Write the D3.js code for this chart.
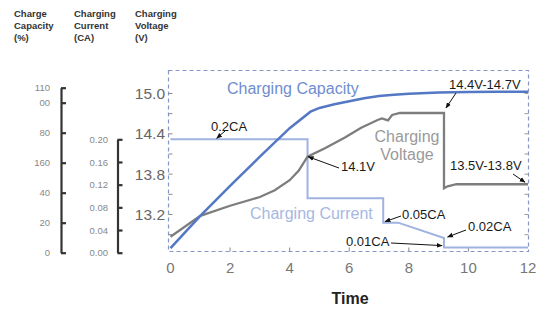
<!DOCTYPE html>
<html lang="en">
<head>
<meta charset="utf-8">
<title>Charging curve</title>
<script src="https://d3js.org/d3.v7.min.js"></script>
<style>
  body { margin: 0; background: #fff; font-family: "Liberation Sans", Arial, sans-serif; }
</style>
</head>
<body>
<div class="chart"></div>
<script>
// axis ticks
const timeTicks = [0, 2, 4, 6, 8, 10, 12];
const voltTicks = [12.9, 13.2, 13.5, 13.8, 14.1, 14.4, 14.7, 15.0];
const voltLabelTicks = [13.2, 13.8, 14.4, 15.0];
const capTicks = [0, 20, 40, 60, 80, 100, 110];
const capTickLabels = ["0", "20", "40", "160", "80", "00", "110"];
const curTicks = [0, 0.04, 0.08, 0.12, 0.16, 0.20];

// charging capacity (%)
const capTime  = [0, 1, 2, 3, 4, 4.7, 5, 5.5, 6, 6.5, 7, 7.5, 8, 9, 10, 11, 12];
const capValue = [3, 24.5, 44.5, 64, 83, 94, 96.5, 99, 101, 103, 104.5, 105.3, 106, 106.8, 107.2, 107.3, 107.3];

// charging current (CA)
const curTime  = [0, 4.6, 4.6, 7.14, 7.14, 7.64, 9.18, 9.18, 12];
const curValue = [0.2, 0.2, 0.096, 0.096, 0.053, 0.053, 0.026, 0.009, 0.009];

// charging voltage (V)
const voltTime  = [0, 1, 2, 3, 3.5, 4, 4.3, 4.6, 5.2, 5.87, 6.4, 6.97, 7.1, 7.3, 7.44, 7.7, 9.18, 9.18, 9.3, 9.6, 12];
const voltValue = [12.87, 13.18, 13.33, 13.46, 13.56, 13.71, 13.85, 14.06, 14.19, 14.35, 14.49, 14.61, 14.63, 14.60, 14.68, 14.71, 14.71, 13.59, 13.62, 13.65, 13.65];

const width = 540, height = 311;
const boxL = 168.5, boxR = 528.5, boxT = 70.5, boxB = 251.5;

const svg = d3.select('.chart')
    .append('svg')
    .attr('width', width)
    .attr('height', height);

const x = d3.scaleLinear().domain([0, 12]).range([170.5, 528]);
const yV = d3.scaleLinear().domain([13.2, 15.0]).range([214.5, 93.5]);
const yC = d3.scaleLinear().domain([0, 0.2]).range([252.7, 139.3]);
const yP = d3.scaleLinear().domain([0, 110]).range([252.7, 87.7]);

// header titles
const heads = [
    {x: 14, lines: ["Charge", "Capacity", "(%)"]},
    {x: 74, lines: ["Charging", "Current", "(CA)"]},
    {x: 135, lines: ["Charging", "Voltage", "(V)"]}
];
heads.forEach(h => {
    h.lines.forEach((l, i) => {
        svg.append('text')
            .attr('x', h.x)
            .attr('y', 16.5 + i * 12)
            .attr('font-size', 9.5)
            .attr('font-weight', 'bold')
            .attr('fill', '#333')
            .text(l);
    });
});

// capacity axis
const capAxis = svg.append('g')
    .attr('transform', 'translate(61,0)')
    .call(d3.axisLeft(yP).tickValues(capTicks)
        .tickFormat((d, i) => capTickLabels[i])
        .tickSizeInner(-5).tickSizeOuter(0).tickPadding(11));

// current axis
const curAxis = svg.append('g')
    .attr('transform', 'translate(117.5,0)')
    .call(d3.axisLeft(yC).tickValues(curTicks)
        .tickFormat(d3.format('.2f'))
        .tickSizeInner(-5).tickSizeOuter(0).tickPadding(9.5));

[capAxis, curAxis].forEach(g => {
    g.select('.domain').attr('stroke', '#333').attr('stroke-width', 2.2);
    g.selectAll('.tick line').attr('stroke', '#333').attr('stroke-width', 2.2);
    g.selectAll('.tick text')
        .attr('fill', '#888')
        .attr('font-size', 9.5)
        .attr('font-family', '"Liberation Sans", Arial, sans-serif');
});

// dashed frame
svg.append('rect')
    .attr('x', boxL).attr('y', boxT)
    .attr('width', boxR - boxL).attr('height', boxB - boxT)
    .attr('fill', 'none')
    .attr('stroke', '#8597c2')
    .attr('stroke-width', 1.2)
    .attr('stroke-dasharray', '4,3');

// inner ticks on frame
svg.selectAll('.vtick')
    .data(voltTicks)
    .enter()
    .append('line')
    .attr('x1', boxL).attr('x2', boxL + 4)
    .attr('y1', d => yV(d)).attr('y2', d => yV(d))
    .attr('stroke', '#8a8a8a');
svg.selectAll('.vtick-r')
    .data(voltTicks)
    .enter()
    .append('line')
    .attr('x1', boxR).attr('x2', boxR - 4)
    .attr('y1', d => yV(d)).attr('y2', d => yV(d))
    .attr('stroke', '#9a9a9a');
svg.selectAll('.ttick')
    .data(timeTicks.slice(1, -1))
    .enter()
    .append('line')
    .attr('x1', d => x(d)).attr('x2', d => x(d))
    .attr('y1', boxB).attr('y2', boxB - 4)
    .attr('stroke', '#8a8a8a');

// voltage labels
svg.selectAll('.vlabel')
    .data(voltLabelTicks)
    .enter()
    .append('text')
    .attr('x', 165)
    .attr('y', d => yV(d))
    .attr('dy', '0.36em')
    .attr('text-anchor', 'end')
    .attr('font-size', 15.5)
    .attr('fill', '#666')
    .text(d => d.toFixed(1));

// time labels
svg.selectAll('.tlabel')
    .data(timeTicks)
    .enter()
    .append('text')
    .attr('x', d => x(d))
    .attr('y', 273)
    .attr('text-anchor', 'middle')
    .attr('font-size', 15)
    .attr('fill', '#777')
    .text(d => d);

svg.append('text')
    .attr('x', 350).attr('y', 304)
    .attr('text-anchor', 'middle')
    .attr('font-size', 16)
    .attr('font-weight', 'bold')
    .attr('fill', '#222')
    .text('Time');

// curves
const curData = curTime.map((t, i) => ({t: t, v: curValue[i]}));
const voltData = voltTime.map((t, i) => ({t: t, v: voltValue[i]}));
const capData = capTime.map((t, i) => ({t: t, v: capValue[i]}));

svg.append('path')
    .datum(curData)
    .attr('fill', 'none')
    .attr('stroke', '#9fb2e0')
    .attr('stroke-width', 2)
    .attr('d', d3.line().x(d => x(d.t)).y(d => yC(d.v)));

svg.append('path')
    .datum(voltData)
    .attr('fill', 'none')
    .attr('stroke', '#7d7d7d')
    .attr('stroke-width', 2.3)
    .attr('d', d3.line().x(d => x(d.t)).y(d => yV(d.v)));

svg.append('path')
    .datum(capData)
    .attr('fill', 'none')
    .attr('stroke', '#5478c4')
    .attr('stroke-width', 2.5)
    .attr('d', d3.line().x(d => x(d.t)).y(d => yP(d.v)));

// series labels
svg.append('text')
    .attr('x', 227).attr('y', 93.5)
    .attr('font-size', 16).attr('fill', '#6f8dcf')
    .text('Charging Capacity');
svg.append('text')
    .attr('x', 250).attr('y', 218.5)
    .attr('font-size', 16).attr('fill', '#a6b8e2')
    .text('Charging Current');
svg.append('text')
    .attr('x', 407).attr('y', 142)
    .attr('text-anchor', 'middle')
    .attr('font-size', 16).attr('fill', '#9a9a9a')
    .text('Charging');
svg.append('text')
    .attr('x', 407).attr('y', 160)
    .attr('text-anchor', 'middle')
    .attr('font-size', 16).attr('fill', '#9a9a9a')
    .text('Voltage');

// annotations with arrows
svg.append('defs').append('marker')
    .attr('id', 'arr')
    .attr('viewBox', '0 0 10 10')
    .attr('refX', 9).attr('refY', 5)
    .attr('markerWidth', 6).attr('markerHeight', 6)
    .attr('orient', 'auto')
    .append('path')
    .attr('d', 'M0,1L10,5L0,9z')
    .attr('fill', '#111');

const notes = [
    {text: '0.2CA', tx: 211, ty: 130.5, from: [225, 131], to: [x(1.55), yC(0.2) - 1]},
    {text: '14.1V', tx: 341, ty: 171, from: [339, 168], to: [x(4.62), yV(14.06)]},
    {text: '14.4V-14.7V', tx: 449, ty: 88.5, from: [456, 93], to: [x(9.18) + 2, yV(14.71) - 5]},
    {text: '13.5V-13.8V', tx: 450, ty: 170, from: [513, 174], to: [525, yV(13.65) - 2]},
    {text: '0.05CA', tx: 402, ty: 218.5, from: [401, 216], to: [x(7.2), yC(0.053) - 1]},
    {text: '0.02CA', tx: 468, ty: 230.5, from: [466, 230], to: [x(9.2) + 3, yC(0.026) - 1]},
    {text: '0.01CA', tx: 346, ty: 246, from: [391, 243], to: [x(9.15) - 1, yC(0.009) - 2]}
];

svg.selectAll('.note')
    .data(notes)
    .enter()
    .append('text')
    .attr('x', d => d.tx)
    .attr('y', d => d.ty)
    .attr('font-size', 13)
    .attr('fill', '#1a1a1a')
    .text(d => d.text);

svg.selectAll('.arrow')
    .data(notes)
    .enter()
    .append('line')
    .attr('x1', d => d.from[0]).attr('y1', d => d.from[1])
    .attr('x2', d => d.to[0]).attr('y2', d => d.to[1])
    .attr('stroke', '#111')
    .attr('stroke-width', 1)
    .attr('marker-end', 'url(#arr)');
</script>
</body>
</html>
